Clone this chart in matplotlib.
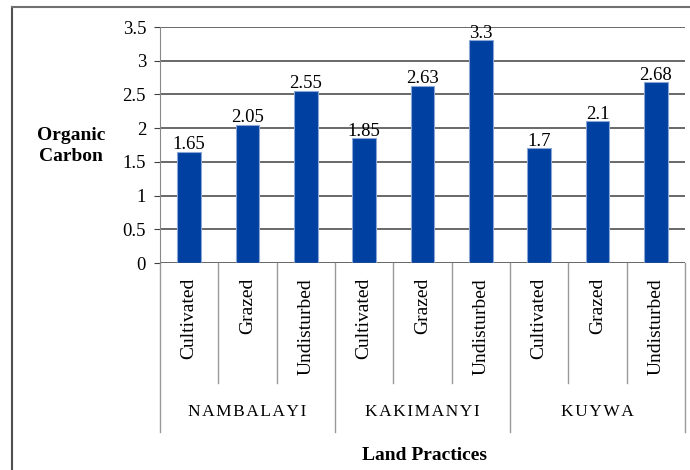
import numpy as np
import matplotlib.pyplot as plt
from matplotlib.lines import Line2D

plt.rcParams['font.family'] = ['Liberation Serif', 'DejaVu Serif']

# data
sites = ['NAMBALAYI', 'KAKIMANYI', 'KUYWA']
practices = ['Cultivated', 'Grazed', 'Undisturbed']
carbon = [1.65, 2.05, 2.55, 1.85, 2.63, 3.3, 1.7, 2.1, 2.68]
value_labels = ['1.65', '2.05', '2.55', '1.85', '2.63', '3.3', '1.7', '2.1', '2.68']
yticks = [0, 0.5, 1, 1.5, 2, 2.5, 3, 3.5]
ytick_labels = ['0', '0.5', '1', '1.5', '2', '2.5', '3', '3.5']

W, H = 690, 470
fig = plt.figure(figsize=(6.9, 4.7), dpi=100)
ax = fig.add_axes([160 / W, 1 - 263 / H, (685 - 160) / W, (263 - 27) / H])

x = np.arange(len(carbon))
bars = ax.bar(x, carbon, width=0.41, color='#0040a0', edgecolor='#8aa6d6', linewidth=0.8, zorder=3)
ax.bar_label(bars, labels=value_labels, padding=-1, fontsize=13.5)

ax.set_xlim(-0.5, len(carbon) - 0.5)
ax.set_ylim(0, 3.5)
ax.set_yticks(yticks)
ax.set_yticklabels(ytick_labels, fontsize=13.5)
ax.tick_params(axis='y', length=4, color='#404040', pad=6)
ax.set_xticks([])
ax.grid(axis='y', color='#404040', linewidth=1.1, zorder=0)

for s in ['top', 'right', 'bottom']:
    ax.spines[s].set_visible(False)
ax.spines['left'].set_color('#888888')
ax.axhline(0, color='#606060', linewidth=1.0, zorder=4)

# multi-level category axis
tr = ax.get_xaxis_transform()
inner_bot = -(383 - 263) / 236
outer_bot = -(432 - 263) / 236
for i in range(len(carbon) + 1):
    b = i - 0.5
    bottom = outer_bot if i % 3 == 0 else inner_bot
    ax.plot([b, b], [0, bottom], transform=tr, color='#999999', linewidth=1.0, clip_on=False)
for i, xi in enumerate(x):
    ax.text(xi, -(278 - 263) / 236, practices[i % 3], transform=tr, rotation=90,
            ha='center', va='top', fontsize=14)
for g, name in enumerate(sites):
    ax.text(g * 3 + 1, -(412 - 263) / 236, '\u200a'.join(name), transform=tr,
            ha='center', va='center', fontsize=12.5)

fig.text(425 / W, 1 - 455 / H, 'Land Practices', ha='center', va='center',
         fontsize=14, fontweight='bold')
fig.text(71 / W, 1 - 146 / H, 'Organic\nCarbon', ha='center', va='center',
         fontsize=14, fontweight='bold', linespacing=1.25)

# outer border (only top and left visible)
fig.add_artist(Line2D([12 / W, 12 / W], [0, 1 - 7 / H], color='#505050', linewidth=1.5))
fig.add_artist(Line2D([12 / W, 1], [1 - 7 / H, 1 - 7 / H], color='#707070', linewidth=1.5))

fig.savefig('out.png', dpi=100)
